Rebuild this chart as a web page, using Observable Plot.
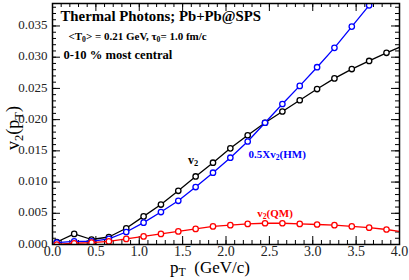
<!DOCTYPE html>
<html><head><meta charset="utf-8">
<script src="https://cdn.jsdelivr.net/npm/d3@7"></script>
<script src="https://cdn.jsdelivr.net/npm/@observablehq/plot@0.6"></script>
<style>html,body{margin:0;padding:0;background:#fff}svg{display:block}#chart svg text{font-family:"Liberation Serif","Times New Roman",serif !important;}</style>
</head><body><div id="chart"></div>
<script>
// ---- data ----
const pT = [0.05,0.25,0.45,0.65,0.85,1.05,1.25,1.45,1.65,1.85,2.05,2.25,2.45,2.65,2.85,3.05,3.25,3.45,3.65,3.85];
const v2Total = [0.0004,0.0017,0.0008,0.0012,0.0026,0.0045,0.0064,0.0086,0.0109,0.0131,0.0154,0.0175,0.0195,0.0213,0.0231,0.0249,0.0266,0.0281,0.0294,0.0307];
const v2HMHalf = [0.0003,0.0005,0.0005,0.0009,0.0020,0.0035,0.0052,0.0070,0.0092,0.0115,0.0139,0.0165,0.0195,0.0225,0.0254,0.0284,0.0315,0.0349,0.0383,0.0418];
const v2QM = [0.0000,0.0002,0.0003,0.0005,0.0009,0.0013,0.0017,0.0021,0.0025,0.0029,0.0031,0.0033,0.0034,0.0034,0.0033,0.0032,0.0031,0.0029,0.0027,0.0024];
// value where each curve meets the right frame edge (pT = 4.0)
const edgeTotal = 0.0316;
const edgeQM = 0.0021;

const seriesNames = ["v2", "0.5Xv2(HM)", "v2(QM)"];
const seriesColors = ["#000000", "#0000ff", "#ff0000"];

const xMajorTicks = [0.0,0.5,1.0,1.5,2.0,2.5,3.0,3.5,4.0];
const yMajorTicks = [0.000,0.005,0.010,0.015,0.020,0.025,0.030,0.035];
const xMinorTicks = d3.range(0, 4.0001, 0.1);
const yMinorTicks = d3.range(0, 0.0386, 0.001);

const titleLines = ["Thermal Photons; Pb+Pb@SPS", "<T_{0}> = 0.21 GeV, τ_{0}= 1.0 fm/c", "0-10 % most central"];
const xTitle = "p_{T}  (GeV/c)";
const yTitle = "v_{2}(p_{T})";

// ---- build tables ----
const valueSets = [v2Total, v2HMHalf, v2QM];
const points = [];
valueSets.forEach((vals, s) => pT.forEach((x, i) => points.push({x, y: vals[i], s: seriesNames[s]})));
const lines = points.slice();
lines.push({x: 4.0, y: edgeTotal, s: seriesNames[0]});
lines.push({x: 4.0, y: edgeQM, s: seriesNames[2]});
lines.sort((a, b) => a.x - b.x);

const W = 409, H = 280, mL = 52, mR = 10, mT = 3, mB = 36;
const pw = W - mL - mR, ph = H - mT - mB;
const serif = "Liberation Serif, Times New Roman, serif";

const chart = Plot.plot({
  width: W, height: H,
  marginLeft: mL, marginRight: mR, marginTop: mT, marginBottom: mB,
  style: {fontFamily: serif, background: "#fff", color: "#000"},
  x: {domain: [0, 4.0], axis: null},
  y: {domain: [0, 0.0386], axis: null},
  color: {domain: seriesNames, range: seriesColors},
  marks: [
    // tick labels
    Plot.axisX(xMajorTicks, {tickSize: 0, tickPadding: 2, tickFormat: d3.format(".1f"), fontSize: 14, label: null, fill: "#222"}),
    Plot.axisY(yMajorTicks, {tickSize: 0, tickPadding: 5, dy: -1, tickFormat: d3.format(".3f"), fontSize: 13, label: null, fill: "#222"}),
    // inward ticks on all four sides
    Plot.tickX(xMinorTicks, {x: d => d, insetTop: ph - 4, stroke: "#000"}),
    Plot.tickX(xMajorTicks, {x: d => d, insetTop: ph - 8, stroke: "#000"}),
    Plot.tickX(xMinorTicks, {x: d => d, insetBottom: ph - 4, stroke: "#000"}),
    Plot.tickX(xMajorTicks, {x: d => d, insetBottom: ph - 8, stroke: "#000"}),
    Plot.tickY(yMinorTicks, {y: d => d, insetRight: pw - 4, stroke: "#000"}),
    Plot.tickY(yMajorTicks, {y: d => d, insetRight: pw - 8, stroke: "#000"}),
    Plot.tickY(yMinorTicks, {y: d => d, insetLeft: pw - 4, stroke: "#000"}),
    Plot.tickY(yMajorTicks, {y: d => d, insetLeft: pw - 8, stroke: "#000"}),
    // data
    Plot.line(lines, {x: "x", y: "y", z: "s", stroke: "s", strokeWidth: 1.3, clip: true}),
    Plot.dot(points, {x: "x", y: "y", stroke: "s", fill: "white", r: 2.7, strokeWidth: 1.3, clip: true}),
    Plot.frame({stroke: "#000", strokeWidth: 1.5}),
    // annotations
    Plot.text([titleLines[0]], {frameAnchor: "top-left", dx: 8, dy: 13, lineAnchor: "middle", text: d => d, textAnchor: "start", fontSize: 14.8, fontWeight: "bold", fill: "#000"}),
    Plot.text([titleLines[1]], {frameAnchor: "top-left", dx: 16, dy: 33, lineAnchor: "middle", text: d => d, textAnchor: "start", fontSize: 11, fontWeight: "bold", fill: "#000"}),
    Plot.text([titleLines[2]], {frameAnchor: "top-left", dx: 11, dy: 51, lineAnchor: "middle", text: d => d, textAnchor: "start", fontSize: 12.6, fontWeight: "bold", fill: "#000"}),
    Plot.text(["v_{2}"], {x: 1.62, y: 0.0135, text: d => d, textAnchor: "middle", fontSize: 12, fontWeight: "bold", fill: "#000"}),
    Plot.text(["0.5Xv_{2}(HM)"], {x: 2.26, y: 0.0144, text: d => d, textAnchor: "start", fontSize: 11, fontWeight: "bold", fill: "#0000ff"}),
    Plot.text(["v_{2}(QM)"], {x: 2.36, y: 0.0050, text: d => d, textAnchor: "start", fontSize: 11, fontWeight: "bold", fill: "#ff0000"}),
    Plot.text([xTitle], {frameAnchor: "bottom", dx: -16, dy: 23, lineAnchor: "middle", textAnchor: "middle", text: d => d, fontSize: 17, fill: "#000"}),
    Plot.text([yTitle], {frameAnchor: "left", dx: -39, dy: 4, lineAnchor: "middle", textAnchor: "middle", rotate: -90, text: d => d, fontSize: 18, fill: "#000"})
  ]
});

// subscripts: turn "_{..}" into real subscript tspans
chart.querySelectorAll("text").forEach(t => {
  const leaves = t.querySelectorAll("tspan").length ? [...t.querySelectorAll("tspan")] : [t];
  leaves.forEach(el => {
    const s = el.textContent;
    if (!s.includes("_{")) return;
    el.textContent = "";
    s.split(/(_\{[^}]*\})/).forEach(p => {
      if (!p) return;
      const ts = document.createElementNS("http://www.w3.org/2000/svg", "tspan");
      if (p.startsWith("_{")) {
        ts.textContent = p.slice(2, -1);
        ts.setAttribute("baseline-shift", "-28%");
        ts.setAttribute("font-size", "70%");
      } else ts.textContent = p;
      el.appendChild(ts);
    });
  });
});

document.getElementById("chart").append(chart);
</script>
</body></html>
